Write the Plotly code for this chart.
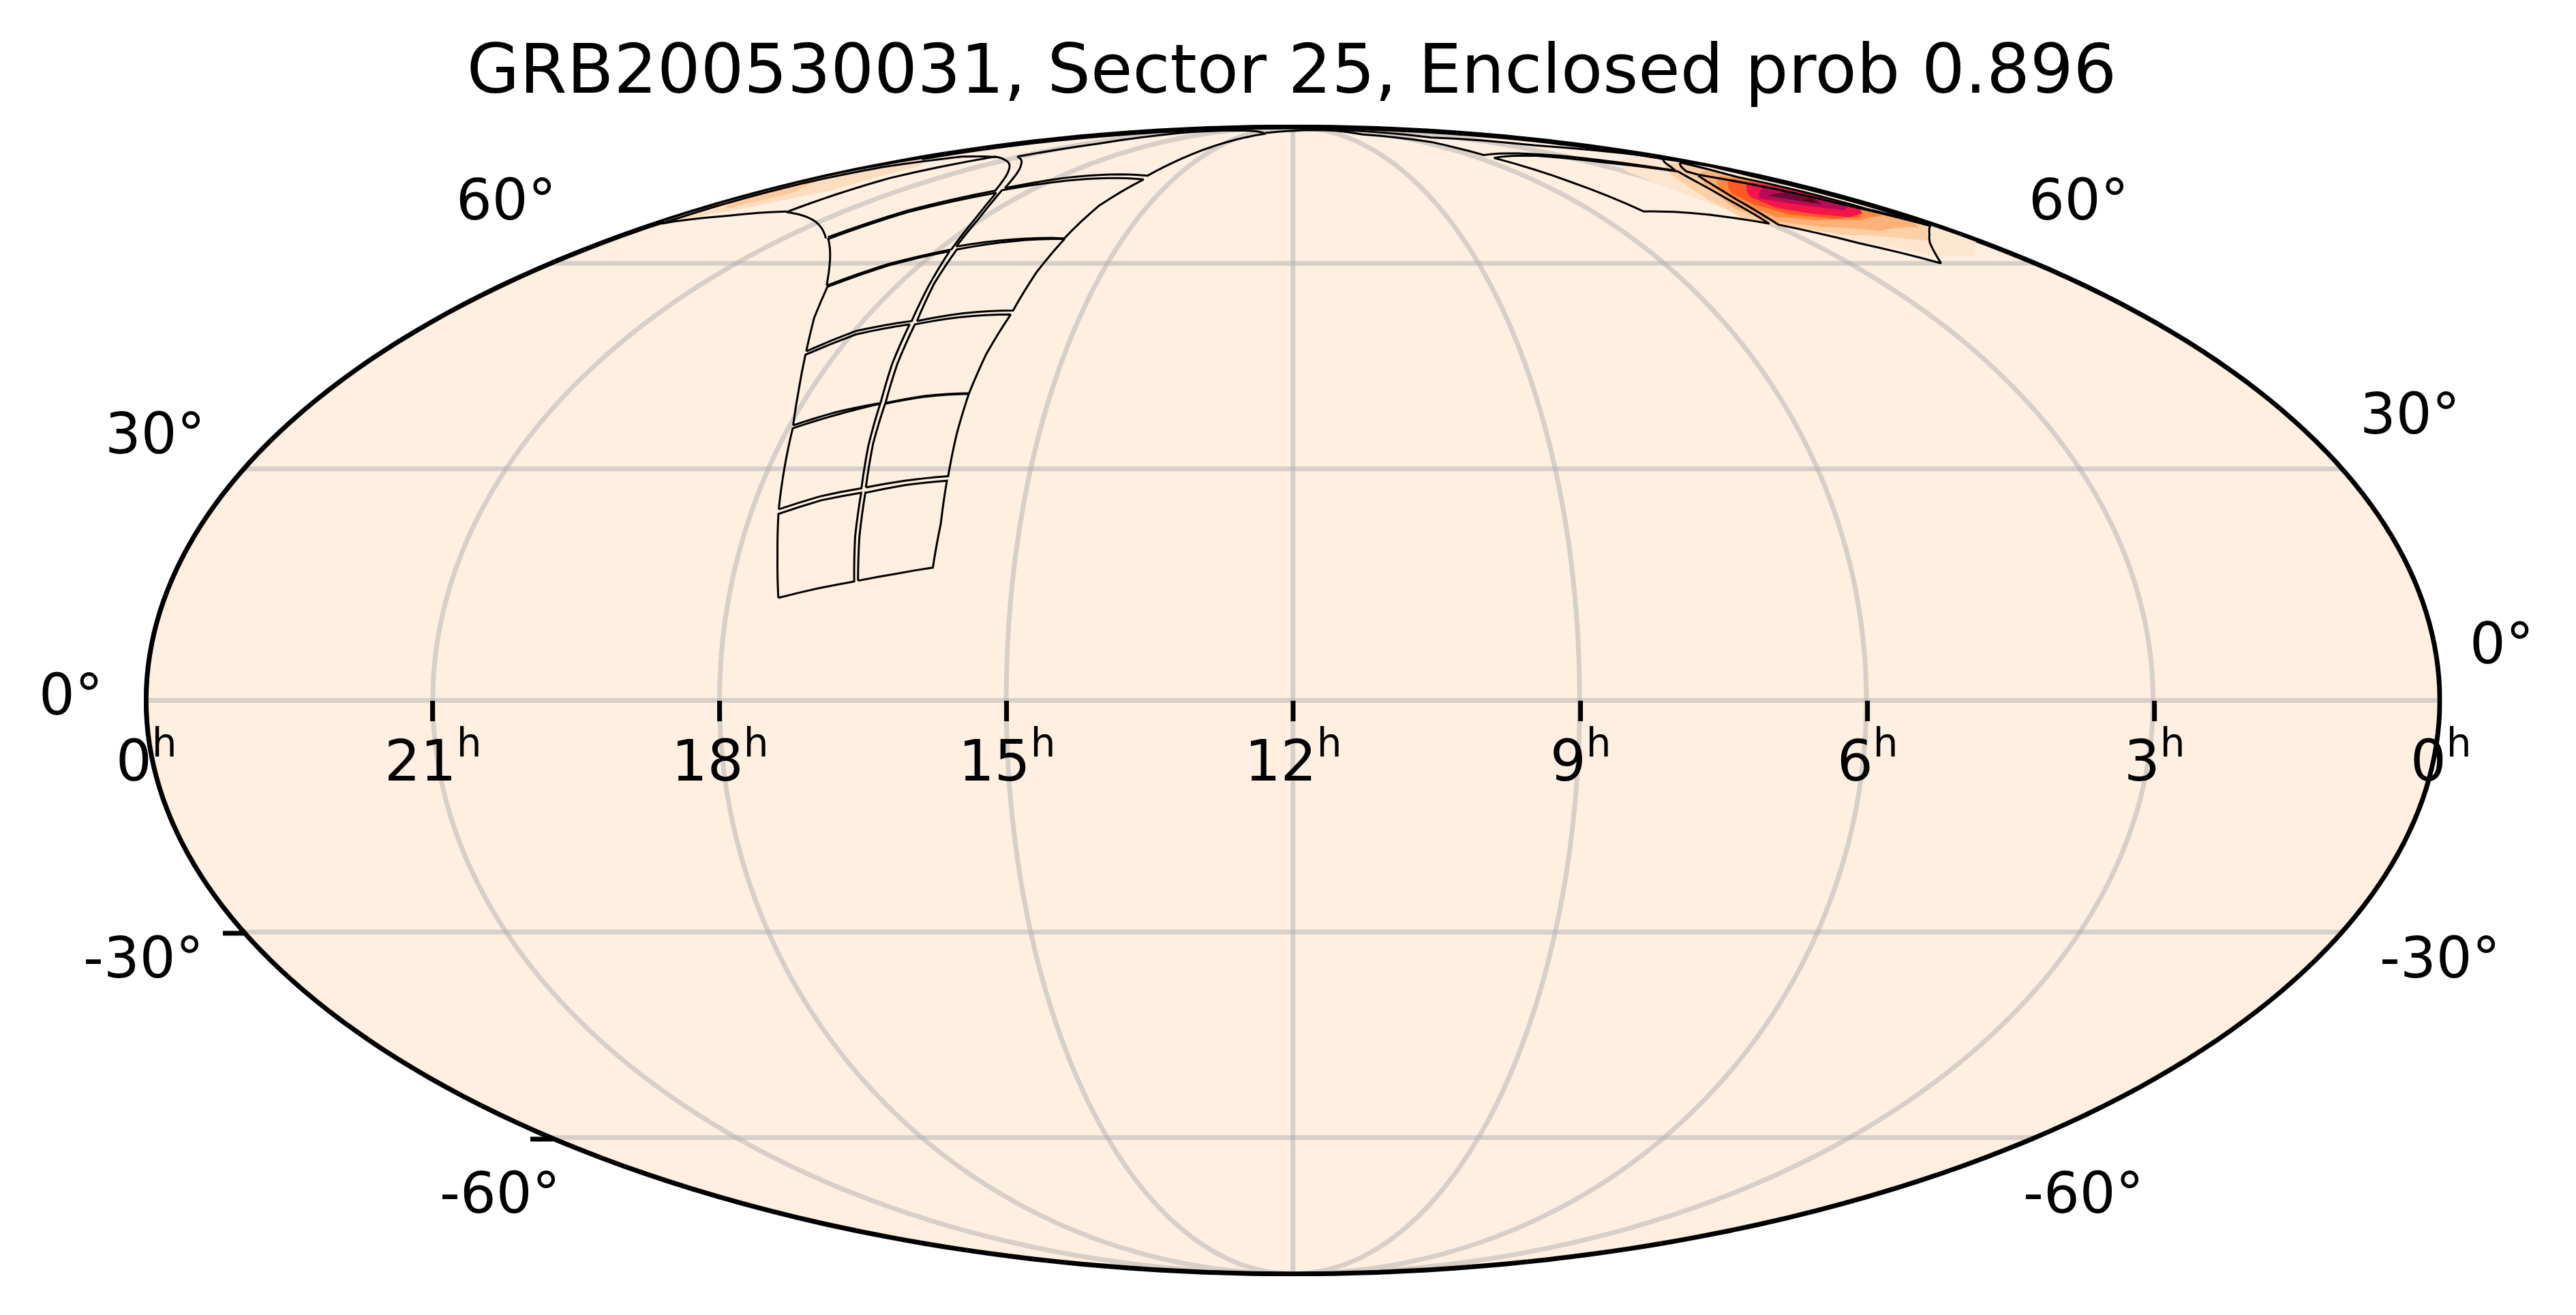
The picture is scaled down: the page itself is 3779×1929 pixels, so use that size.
import plotly.graph_objects as go

W, H = 3779, 1929

title_text = "GRB200530031, Sector 25, Enclosed prob 0.896"
ra_labels = ["0", "21", "18", "15", "12", "9", "6", "3", "0"]
dec_labels = ["60°", "30°", "0°", "-30°", "-60°", "60°", "30°", "0°", "-30°", "-60°"]

# probability map, outermost level first (lon = 180 - RA)
heat_colors = ["#FEE5CF", "#FDCFA5", "#FDB078", "#FF8A3D", "#FF5A26", "#F5154A", "#B80C58", "#6E0A35", "#4A0606", "#FDDDC0", "#FDC89A"]
h0_lon = [171.2,178.2,173.9,178.4,178.6,169.3,159.2,146.5,137.2,131.5,130.7,135.3,160.1]
h0_lat = [80.4,78.0,72.3,67.2,63.6,61.1,61.1,64.0,66.8,69.0,73.0,77.0,80.9]
h1_lon = [167.3,175.4,168.4,172.7,177.6,166.9,163.4,148.2,135.7,130.5,133.6,142.9,150.3]
h1_lat = [78.8,78.8,73.4,69.0,66.4,63.8,64.0,64.8,66.2,67.8,71.2,74.8,77.0]
h2_lon = [169.0,169.6,172.5,176.9,174.2,160.4,147.0,136.7,134.8,144.6,161.5]
h2_lat = [77.2,74.8,70.3,67.2,66.2,65.5,66.2,67.2,69.5,73.4,77.2]
h3_lon = [165.5,171.4,174.9,173.0,163.0,150.2,141.1,141.0,146.9,157.6]
h3_lat = [76.0,73.9,70.1,68.2,67.4,67.4,68.0,70.1,73.0,75.8]
h4_lon = [166.3,173.3,174.4,165.7,156.6,146.8,144.1,147.5,156.1]
h4_lat = [75.5,73.0,69.9,68.0,67.6,68.4,70.3,72.5,75.0]
h5_lon = [167.9,173.3,174.5,169.0,162.0,153.8,148.2,150.1,158.9]
h5_lat = [74.8,73.0,69.8,68.6,67.9,68.6,69.7,71.8,74.6]
h6_lon = [168.2,171.5,172.1,167.0,162.1,156.5,151.5,160.0]
h6_lat = [73.9,72.1,70.1,69.2,69.7,70.5,71.5,74.1]
h7_lon = [167.2,169.7,165.4,163.4,157.0,163.0]
h7_lat = [72.7,71.6,70.3,70.7,72.0,73.2]
h8_lon = [168.2,165.6,163.1,164.8]
h8_lat = [71.6,70.7,71.0,72.1]
h9_lon = [-179.6,-179.8,-179.8,-176.7,-161.0,-158.3,-166.8,-177.7,-177.4]
h9_lat = [67.2,71.6,76.5,79.8,78.2,73.0,69.9,66.8,65.7]
h10_lon = [-179.7,-177.6,-168.9,-172.6,-176.6]
h10_lat = [70.7,75.3,72.5,69.5,67.2]

# camera / ccd footprints
a_lon = [-82.1,-76.1,-70.4,-71.7,-72.7,-79.0,-85.4,-83.6,-82.1]
a_lat = [13.1,14.3,15.2,21.0,26.8,25.8,24.0,18.5,13.1]
b_lon = [-69.8,-63.9,-58.1,-58.1,-58.8,-65.8,-72.0,-71.0,-69.8]
b_lat = [15.3,16.2,17.0,22.7,28.4,27.8,26.8,21.0,15.3]
c_lon = [-85.6,-79.5,-72.9,-74.4,-75.7,-82.9,-89.2,-87.3,-85.6]
c_lat = [24.6,26.3,27.4,33.2,38.9,37.3,35.5,30.1,24.6]
d_lon = [-72.2,-66.0,-58.8,-59.6,-60.2,-68.0,-74.8,-73.7,-72.2]
d_lat = [27.5,28.4,29.0,34.7,40.3,39.9,38.9,33.4,27.5]
e_lon = [-89.4,-83.1,-75.7,-77.7,-79.7,-89.1,-95.9,-92.3,-89.4]
e_lat = [35.9,37.7,39.0,44.6,50.4,48.9,45.9,40.9,35.9]
f_lon = [-74.8,-68.1,-60.2,-60.4,-59.9,-70.2,-78.6,-76.7,-74.8]
f_lat = [39.0,40.0,40.4,46.0,51.9,51.5,50.4,44.6,39.0]
g_lon = [-96.3,-89.7,-79.8,-82.8,-86.7,-97.6,-105.5,-100.9,-96.3]
g_lat = [46.4,49.4,50.9,56.4,62.0,59.6,56.2,51.4,46.4]
h_lon = [-78.7,-70.1,-59.9,-60.5,-60.4,-73.5,-85.4,-82.0,-78.7]
h_lat = [50.9,52.1,52.5,58.5,64.1,63.7,62.3,56.7,50.9]
i_lon = [-106.0,-98.1,-86.8,-91.6,-100.2,-115.3,-122.9,-113.6,-106.0]
i_lat = [56.4,59.8,62.3,67.4,72.6,68.9,64.1,60.6,56.4]
j_lon = [-86.5,-74.0,-60.6,-60.2,-56.1,-84.6,-100.1,-90.6,-86.5]
j_lat = [62.8,64.0,64.2,70.1,75.3,75.0,73.1,67.4,62.8]
k_lon = [-123.8,-116.3,-102.0,-117.8,-135.2,-147.4,-153.4,-151.7,-135.9,-123.8]
k_lat = [64.4,69.2,73.0,77.4,79.6,80.4,75.6,68.9,67.1,64.2]
l_lon = [-100.6,-87.2,-56.6,-53.2,-45.6,-28.3,-121.6,-127.4,-136.3,-119.6,-100.6]
l_lat = [73.5,75.6,76.1,80.0,84.2,86.9,87.5,83.8,80.4,78.5,73.5]
v_lon = [-152.0,-166.4,-176.6,-178.4,-178.4,-178.0,-175.5,-163.9,-146.1]
v_lat = [69.0,68.2,67.2,66.8,70.5,74.6,78.0,80.4,80.3]
n1_lon = [-29.9,3.1,60.0,68.4,95.6,96.0,97.0,118.0,136.9,157.0,161.8,176.0,178.1,151.5,114.2,41.8]
n1_lat = [87.1,88.0,88.0,86.6,84.2,82.7,80.8,81.2,80.4,77.2,78.0,79.8,80.4,83.3,85.6,88.5]
m_lon = [97.4,122.1,141.6,156.5,140.6,134.6,123.0,105.4,102.1,97.4]
m_lat = [80.1,80.6,79.0,77.0,71.4,66.8,68.4,69.0,74.8,80.1]
n_lon = [157.8,142.9,136.5,147.2,157.2,165.8,171.5,178.2,172.5,169.2,159.3]
n_lat = [76.1,71.2,66.6,63.4,60.0,63.4,64.9,66.4,70.1,72.4,76.3]
o_lon = [159.3,160.0,175.4,175.5,170.7,173.3,174.9,178.9]
o_lat = [76.3,77.0,79.0,79.0,75.8,73.0,69.5,66.6]

heat = [(h0_lon, h0_lat), (h1_lon, h1_lat), (h2_lon, h2_lat), (h3_lon, h3_lat), (h4_lon, h4_lat), (h5_lon, h5_lat),
        (h6_lon, h6_lat), (h7_lon, h7_lat), (h8_lon, h8_lat), (h9_lon, h9_lat), (h10_lon, h10_lat)]
tiles = [(a_lon, a_lat), (b_lon, b_lat), (c_lon, c_lat), (d_lon, d_lat), (e_lon, e_lat), (f_lon, f_lat),
         (g_lon, g_lat), (h_lon, h_lat), (i_lon, i_lat), (j_lon, j_lat), (k_lon, k_lat), (l_lon, l_lat),
         (v_lon, v_lat), (n1_lon, n1_lat), (m_lon, m_lat), (n_lon, n_lat), (o_lon, o_lat)]

# pixel layout of the ellipse and the tick labels
left, right, top, bottom = 213.5, 3580, 186.3, 1868.7
ra_label_x = [215, 634.6, 1055.6, 1476.6, 1897, 2318.6, 2739.6, 3160.6, 3581]
dec_label_x = [742, 227, 104, 210, 733, 3049, 3535, 3670, 3579, 3056]
dec_label_y = [294, 636, 1019, 1405, 1750, 294, 607, 945, 1405, 1750]

# the page body has an 8px margin
PAGE_MARGIN = 8


def px(x):
    return (x - PAGE_MARGIN) / W


def py(y):
    return 1 - (y - PAGE_MARGIN) / H


fig = go.Figure()
for (lon, lat), col in zip(heat, heat_colors):
    fig.add_trace(go.Scattergeo(lon=lon, lat=lat, mode="lines", fill="toself", fillcolor=col,
                                line=dict(width=0, color=col), hoverinfo="skip", showlegend=False))
for lon, lat in tiles:
    fig.add_trace(go.Scattergeo(lon=lon, lat=lat, mode="lines", line=dict(width=3, color="black"), showlegend=False))

annotations = []
for x, lab in zip(ra_label_x, ra_labels):
    annotations.append(dict(x=px(x), y=py(1110), xref="paper", yref="paper", text=lab + "<sup>h</sup>", showarrow=False,
                            xanchor="center", yanchor="middle", font=dict(size=83)))
for x, y, lab in zip(dec_label_x, dec_label_y, dec_labels):
    annotations.append(dict(x=px(x), y=py(y), xref="paper", yref="paper", text=lab, showarrow=False,
                            xanchor="center", yanchor="middle", font=dict(size=83)))

shapes = [dict(type="circle", xref="paper", yref="paper", layer="below", x0=px(left), x1=px(right), y0=py(bottom), y1=py(top),
               fillcolor="#FFEFE0", line=dict(width=0))]
for x in ra_label_x[1:-1]:
    shapes.append(dict(type="line", xref="paper", yref="paper", x0=px(x), x1=px(x), y0=py(1028), y1=py(1058),
                       line=dict(color="black", width=7)))
for x0, x1, y in [(327, 360, 1369), (778, 811, 1671)]:
    shapes.append(dict(type="line", xref="paper", yref="paper", x0=px(x0), x1=px(x1), y0=py(y), y1=py(y),
                       line=dict(color="black", width=7)))

fig.update_layout(
    width=W, height=H, margin=dict(l=0, r=0, t=0, b=0), template="none", paper_bgcolor="white",
    font=dict(family="DejaVu Sans", color="black"),
    title=dict(text=title_text, x=px(1895), y=py(101), xref="paper", yref="paper", xanchor="center", yanchor="middle", font=dict(size=100)),
    geo=dict(
        projection_type="mollweide",
        domain=dict(x=[px(left), px(right)], y=[py(bottom), py(top)]),
        bgcolor="rgba(0,0,0,0)", showland=False, showocean=False, showlakes=False, showrivers=False,
        showcountries=False, showsubunits=False, showcoastlines=False,
        showframe=True, framecolor="black", framewidth=7,
        lonaxis=dict(showgrid=True, dtick=45, gridcolor="rgba(176,176,176,0.5)", gridwidth=7),
        lataxis=dict(showgrid=True, dtick=30, gridcolor="rgba(176,176,176,0.5)", gridwidth=7),
    ),
    shapes=shapes,
    annotations=annotations,
)
fig.write_html("out.html")
